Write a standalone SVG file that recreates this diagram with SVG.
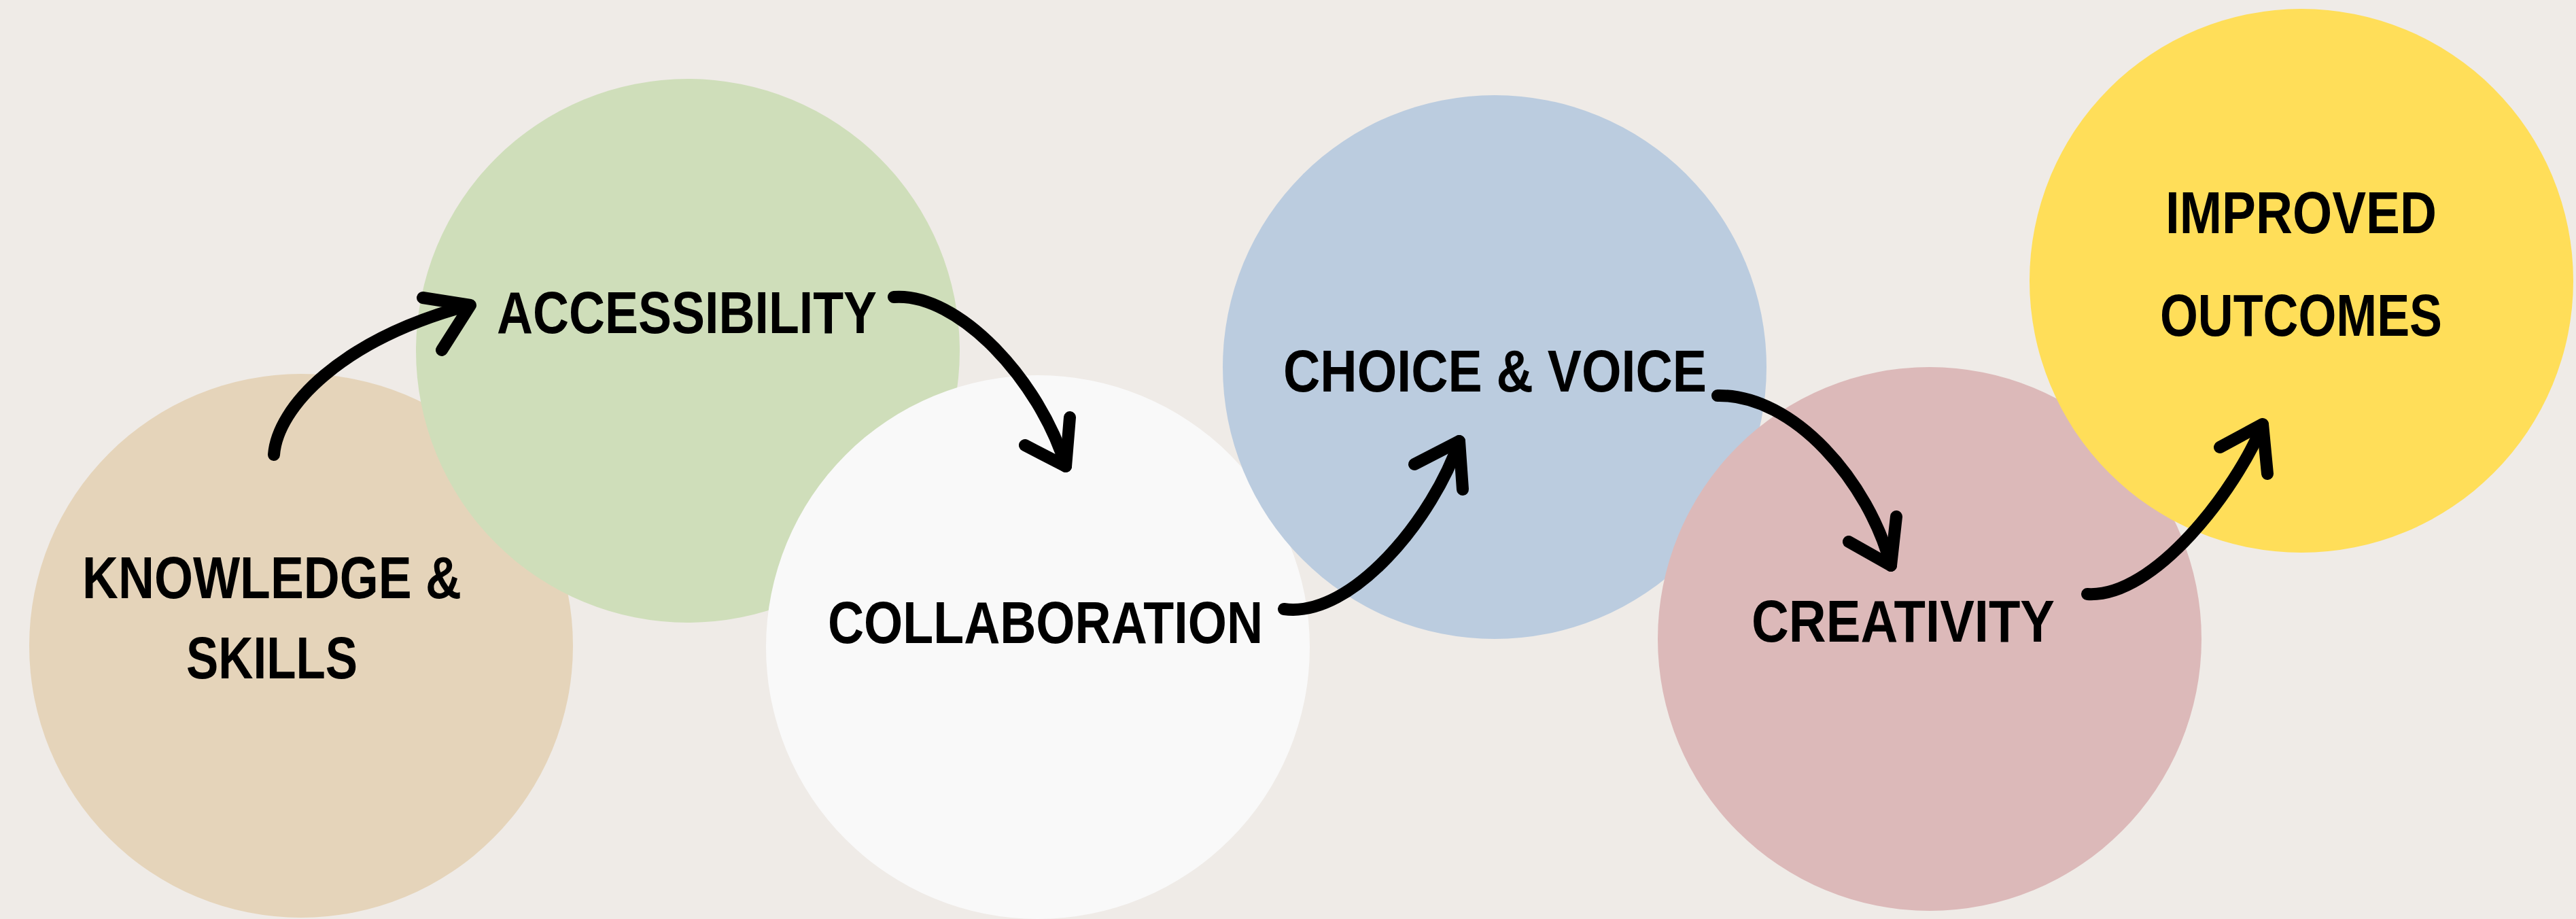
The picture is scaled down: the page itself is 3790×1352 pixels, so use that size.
<svg xmlns="http://www.w3.org/2000/svg" width="3790" height="1352" viewBox="0 0 3790 1352">
<style>
.lbl{font-family:"Liberation Sans","DejaVu Sans",sans-serif;font-weight:bold;font-size:88px;fill:#000}
.arr{fill:none;stroke:#000;stroke-width:18;stroke-linecap:round;stroke-linejoin:round}
</style>
<rect width="3790" height="1352" fill="#efebe7"/>
<g id="knowledge">
<circle cx="443" cy="950" r="400" fill="#e5d4ba"/>
<text class="lbl" x="121" y="880" textLength="558" lengthAdjust="spacingAndGlyphs">KNOWLEDGE &amp;</text>
<text class="lbl" x="274" y="998" textLength="252" lengthAdjust="spacingAndGlyphs">SKILLS</text>
</g>
<g id="accessibility">
<circle cx="1012" cy="516" r="400" fill="#cfdeba"/>
<text class="lbl" x="731" y="490" textLength="559" lengthAdjust="spacingAndGlyphs">ACCESSIBILITY</text>
</g>
<g id="collaboration">
<circle cx="1527" cy="952" r="400" fill="#f9f9f9"/>
<text class="lbl" x="1218" y="946" textLength="640" lengthAdjust="spacingAndGlyphs">COLLABORATION</text>
</g>
<g id="choice">
<circle cx="2199" cy="540" r="400" fill="#bbccdf"/>
<text class="lbl" x="1888" y="576" textLength="623" lengthAdjust="spacingAndGlyphs">CHOICE &amp; VOICE</text>
</g>
<g id="creativity">
<circle cx="2839" cy="940" r="400" fill="#dcb9b9"/>
<text class="lbl" x="2577" y="944" textLength="446" lengthAdjust="spacingAndGlyphs">CREATIVITY</text>
</g>
<g id="improved">
<circle cx="3386" cy="413" r="400" fill="#ffde59"/>
<text class="lbl" x="3186" y="343" textLength="399" lengthAdjust="spacingAndGlyphs">IMPROVED</text>
<text class="lbl" x="3178" y="494" textLength="415" lengthAdjust="spacingAndGlyphs">OUTCOMES</text>
</g>
<g id="connectors">
<path class="arr" d="M403,669 C408,600 500,500 690,449"/>
<path class="arr" d="M622,438 L692,449 L650,515"/>
<path class="arr" d="M1315,437 C1410,430 1530,560 1568,686"/>
<path class="arr" d="M1508,655 L1568,686 L1574,614"/>
<path class="arr" d="M1889,896 C1990,910 2110,760 2147,649"/>
<path class="arr" d="M2081,683 L2147,649 L2152,720"/>
<path class="arr" d="M2527,582 C2640,580 2750,710 2782,832"/>
<path class="arr" d="M2720,797 L2782,832 L2790,760"/>
<path class="arr" d="M3071,874 C3170,880 3290,720 3329,625"/>
<path class="arr" d="M3266,658 L3329,624 L3336,697"/>
</g>
</svg>
